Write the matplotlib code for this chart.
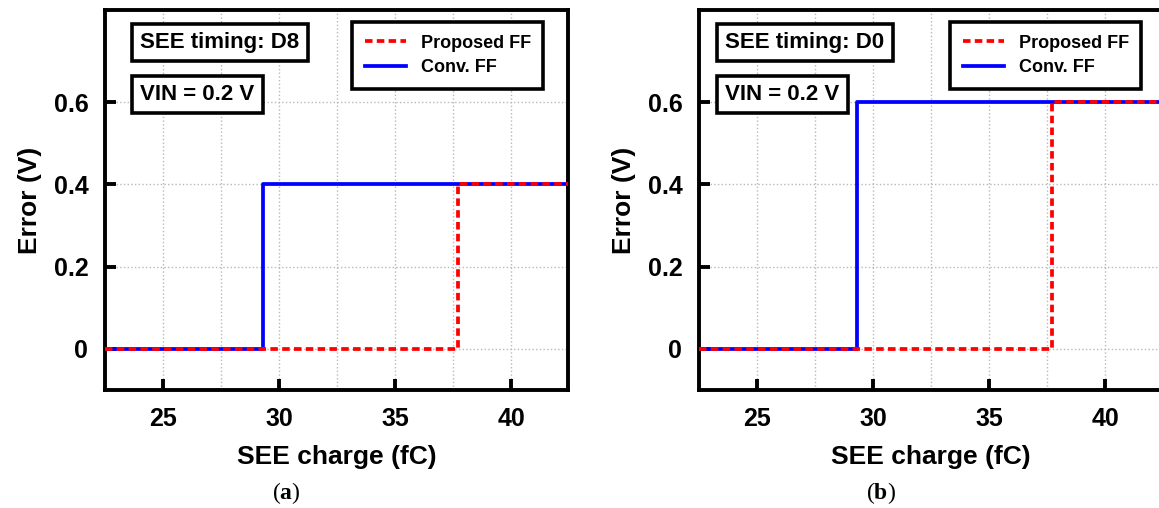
import matplotlib
matplotlib.use("Agg")
import matplotlib.pyplot as plt
from matplotlib.ticker import MultipleLocator, FixedLocator

# ---- data ----
x_range = [22.5, 42.45]
xticks = [25, 30, 35, 40]
yticks = [0, 0.2, 0.4, 0.6]
ytick_labels = ["0", "0.2", "0.4", "0.6"]

# panel (a): SEE timing D8
conv_x_a = [22.5, 29.3, 42.45]
conv_y_a = [0.0, 0.4, 0.4]
prop_x_a = [22.5, 37.7, 42.45]
prop_y_a = [0.0, 0.4, 0.4]

# panel (b): SEE timing D0
conv_x_b = [22.5, 29.3, 42.45]
conv_y_b = [0.0, 0.6, 0.6]
prop_x_b = [22.5, 37.7, 42.45]
prop_y_b = [0.0, 0.6, 0.6]

panels = [
    dict(conv=(conv_x_a, conv_y_a), prop=(prop_x_a, prop_y_a),
         box1="SEE timing: D8", box2="VIN = 0.2 V", caption="a"),
    dict(conv=(conv_x_b, conv_y_b), prop=(prop_x_b, prop_y_b),
         box1="SEE timing: D0", box2="VIN = 0.2 V", caption="b"),
]

plt.rcParams['font.family'] = ['Liberation Sans', 'DejaVu Sans']
plt.rcParams['mathtext.fontset'] = 'custom'
plt.rcParams['mathtext.bf'] = 'Liberation Serif:bold'
plt.rcParams['mathtext.rm'] = 'Liberation Serif'

W, H = 1159, 508
fig = plt.figure(figsize=(W / 100, H / 100), dpi=100)

ax_left_px = [105, 699]
ax_w_px = 463
ax_top_px, ax_bot_px = 10, 390
box_left_px = [131, 716]
leg_left_px = [352, 950]
cap_x_px = [286, 881]

for i, p in enumerate(panels):
    ax = fig.add_axes([ax_left_px[i] / W, (H - ax_bot_px) / H,
                       ax_w_px / W, (ax_bot_px - ax_top_px) / H])
    ax.set_xlim(*x_range)
    ax.set_ylim(-0.1, 0.824)

    lb, = ax.step(p['conv'][0], p['conv'][1], where='post', color='#0000ff',
                  lw=2.7, zorder=3, label='Conv. FF')
    lr, = ax.step(p['prop'][0], p['prop'][1], where='post', color='#ff0000',
                  lw=2.7, linestyle=(0, (2.0, 1.15)), zorder=4, label='Proposed FF')

    ax.xaxis.set_major_locator(FixedLocator(xticks))
    ax.xaxis.set_minor_locator(MultipleLocator(2.5))
    ax.set_yticks(yticks)
    ax.set_yticklabels(ytick_labels)
    ax.tick_params(which='major', direction='in', length=8, width=2.8,
                   labelsize=18, pad=12, top=False, right=False)
    ax.tick_params(which='minor', length=0)
    for lab in ax.get_xticklabels() + ax.get_yticklabels():
        lab.set_fontweight('bold')
    ax.grid(True, which='both', axis='x', color='#b8b8b8', linestyle=':', lw=1.0)
    ax.grid(True, which='major', axis='y', color='#b8b8b8', linestyle=':', lw=1.0)
    for s in ax.spines.values():
        s.set_linewidth(2.8)
        s.set_color('black')

    ax.set_xlabel("SEE charge (fC)", fontsize=19, fontweight='bold', labelpad=10)
    ax.set_ylabel("Error (V)", fontsize=19, fontweight='bold', labelpad=8)

    bx = (box_left_px[i] + 9 - ax_left_px[i]) / ax_w_px
    for txt, yc in [(p['box1'], 42.5), (p['box2'], 94.5)]:
        ax.text(bx, (ax_bot_px - yc) / (ax_bot_px - ax_top_px), txt,
                transform=ax.transAxes, ha='left', va='center',
                fontsize=16, fontweight='bold', zorder=6,
                bbox=dict(boxstyle='square,pad=0.38', facecolor='white',
                          edgecolor='black', linewidth=2.6))

    leg = ax.legend(handles=[lr, lb], loc='upper left',
                    bbox_to_anchor=((leg_left_px[i] - ax_left_px[i]) / ax_w_px,
                                    (ax_bot_px - 22) / (ax_bot_px - ax_top_px)),
                    borderaxespad=0, fancybox=False, framealpha=1,
                    edgecolor='black', prop=dict(size=13, weight='bold'),
                    handlelength=2.3, handletextpad=0.8, borderpad=0.7,
                    labelspacing=0.4)
    leg.get_frame().set_linewidth(2.6)
    leg.set_zorder(7)

    fig.text(cap_x_px[i] / W, (H - 493) / H, r"($\mathbf{" + p['caption'] + r"}$)",
             ha='center', va='center', fontsize=17, family='Liberation Serif')

fig.savefig("out.png", dpi=100)
